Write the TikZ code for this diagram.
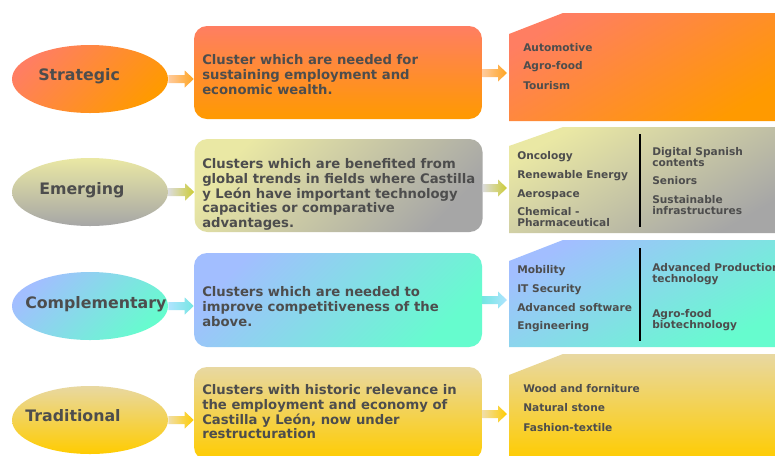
\documentclass[tikz,border=0pt]{standalone}
\usepackage{fontspec}
\setmainfont{DejaVu Sans}
\usetikzlibrary{shapes.geometric,calc}

\newlength\pxu
\setlength\pxu{0.75pt}

\definecolor{ink}{HTML}{4D4D4D}
% strategic (orange)
\definecolor{orA}{HTML}{FF7E62}
\definecolor{orB}{HTML}{FF9A00}
\definecolor{orL}{HTML}{FFCB9E}
% emerging (khaki / grey)
\definecolor{grA}{HTML}{EAE8A4}
\definecolor{grB}{HTML}{A6A6A6}
\definecolor{grL}{HTML}{DCDCDC}
\definecolor{grT}{HTML}{CCCC33}
% complementary (blue / aqua)
\definecolor{blA}{HTML}{A2BEFF}
\definecolor{blB}{HTML}{66FCCE}
\definecolor{blL}{HTML}{B0E4FF}
\definecolor{blT}{HTML}{74E6E2}
% traditional (tan / gold)
\definecolor{goA}{HTML}{E8D8A2}
\definecolor{goB}{HTML}{FFCC00}
\definecolor{goL}{HTML}{F0DEA8}

\tikzset{
  x=0.75pt, y=-0.75pt,
  oval/.style={ellipse, minimum width=156\pxu, minimum height=68\pxu, inner sep=0pt},
  card/.style={rectangle, rounded corners=13\pxu, minimum width=288\pxu, minimum height=93\pxu, inner sep=0pt},
  lbl/.style={font=\fontsize{11.85}{14}\selectfont\bfseries, text=ink, inner sep=0pt, anchor=north west},
  cardtxt/.style={font=\fontsize{9.9}{10.95}\selectfont\bfseries, text=ink, inner sep=0pt, anchor=north west, align=left},
  item/.style={font=\fontsize{7.95}{8.6}\selectfont\bfseries, text=ink, inner sep=0pt, anchor=north west, align=left},
  divider/.style={draw=black, line width=0.8pt},
  diag/.style 2 args={top color=#1, bottom color=#2, shading angle=45},
  vert/.style 2 args={top color=#1, bottom color=#2},
  horz/.style 2 args={left color=#1, right color=#2},
}

% thick block arrow from a tail point to a tip point at the same height
\newcommand\fatarrow[3]{%
  \shade[#3] ($(#1)+(0,-4)$) -- ($(#2)+(-9,-4)$) -- ($(#2)+(-9,-8.5)$) -- (#2)
    -- ($(#2)+(-9,8.5)$) -- ($(#2)+(-9,4)$) -- ($(#1)+(0,4)$) -- cycle;}

\begin{document}
\begin{tikzpicture}
\useasboundingbox (0,0) rectangle (775,455);
\fill[white] (0,0) rectangle (775,455);
\clip (0,0) rectangle (775,455);

% ---------- category ovals ----------
\node[oval, diag={orA}{orB}] (e1) at (90,79) {};
\node[oval, vert={grA}{grB}] (e2) at (90,192) {};
\node[oval, diag={blA}{blB}] (e3) at (90,306) {};
\node[oval, vert={goA}{goB}] (e4) at (90,420) {};

\node[lbl] (l1) at (38,68.5) {Strategic};
\node[lbl] (l2) at (39,182.5) {Emerging};
\node[lbl] (l3) at (25,296.5) {Complementary};
\node[lbl] (l4) at (25,409.5) {Traditional};

% ---------- description cards ----------
\node[card, vert={orA}{orB}] (b1) at (338,72.5) {};
\node[card, diag={grA}{grB}] (b2) at (338.5,185.5) {};
\node[card, diag={blA}{blB}, minimum height=94\pxu] (b3) at (338,300) {};
\node[card, vert={goA}{goB}] (b4) at (338,413.5) {};

\node[cardtxt] (d1) at (202,54.5) {Cluster which are needed for\\sustaining employment and\\economic wealth.};
\node[cardtxt] (d2) at (202,158.5) {Clusters which are benefited from\\global trends in fields where Castilla\\y León have important technology\\capacities or comparative\\advantages.};
\node[cardtxt] (d3) at (202,286.5) {Clusters which are needed to\\improve competitiveness of the\\above.};
\node[cardtxt] (d4) at (202,384.5) {Clusters with historic relevance in\\the employment and economy of\\Castilla y León, now under\\restructuration};

% ---------- sector panels ----------
\shade[diag={orA}{orB}, shading angle=30] (509,34) -- (563,13) -- (780,13) -- (780,121) -- (509,121) -- cycle;
\shade[diag={grA}{grB}, shading angle=30] (509,146) -- (563,127) -- (780,127) -- (780,233) -- (509,233) -- cycle;
\shade[diag={blA}{blB}, shading angle=30] (509,261) -- (563,240) -- (780,240) -- (780,347) -- (509,347) -- cycle;
\shade[vert={goA}{goB}] (509,375) -- (563,354) -- (780,354) -- (780,460) -- (509,460) -- cycle;

\draw[divider] (640,134) -- (640,227);
\draw[divider] (640,248) -- (640,341);

\coordinate (p1) at (507,73);
\coordinate (p2) at (507,188);
\coordinate (p3) at (507,300);
\coordinate (p4) at (507,414);

% strategic sectors
\node[item] (s1) at (523,43) {Automotive};
\node[item] (s2) at (523,61) {Agro-food};
\node[item] (s3) at (523,81) {Tourism};
% emerging sectors
\node[item] (m1) at (517,151) {Oncology};
\node[item] (m2) at (517,170) {Renewable Energy};
\node[item] (m3) at (517,189) {Aerospace};
\node[item] (m4) at (517,207) {Chemical -\\Pharmaceutical};
\node[item] (m5) at (652,147) {Digital Spanish\\contents};
\node[item] (m6) at (652,176) {Seniors};
\node[item] (m7) at (652,195) {Sustainable\\infrastructures};
% complementary sectors
\node[item] (c1) at (517,265) {Mobility};
\node[item] (c2) at (517,284) {IT Security};
\node[item] (c3) at (517,303) {Advanced software};
\node[item] (c4) at (517,321) {Engineering};
\node[item] (c5) at (652,263) {Advanced Production\\technology};
\node[item] (c6) at (652,309) {Agro-food\\biotechnology};
% traditional sectors
\node[item] (t1) at (523,384) {Wood and forniture};
\node[item] (t2) at (523,403) {Natural stone};
\node[item] (t3) at (523,423) {Fashion-textile};

% ---------- arrows ----------
\coordinate (a1) at (b1.west |- e1.east);
\coordinate (a2) at (b2.west |- e2.east);
\coordinate (a3) at (b3.west |- e3.east);
\coordinate (a4) at (b4.west |- e4.east);
\fatarrow{e1.east}{a1}{horz={orL}{orB!80!orL}}
\fatarrow{e2.east}{a2}{horz={grL}{grT}}
\fatarrow{e3.east}{a3}{horz={blL}{blT}}
\fatarrow{e4.east}{a4}{horz={goL}{goB}}

\coordinate (f1) at (b1.east |- p1);
\coordinate (f2) at (b2.east |- p2);
\coordinate (f3) at (b3.east |- p3);
\coordinate (f4) at (b4.east |- p4);
\fatarrow{f1}{p1}{horz={orL}{orB!80!orL}}
\fatarrow{f2}{p2}{horz={grL}{grT}}
\fatarrow{f3}{p3}{horz={blT}{blL}}
\fatarrow{f4}{p4}{horz={goL}{goB}}
\end{tikzpicture}
\end{document}
